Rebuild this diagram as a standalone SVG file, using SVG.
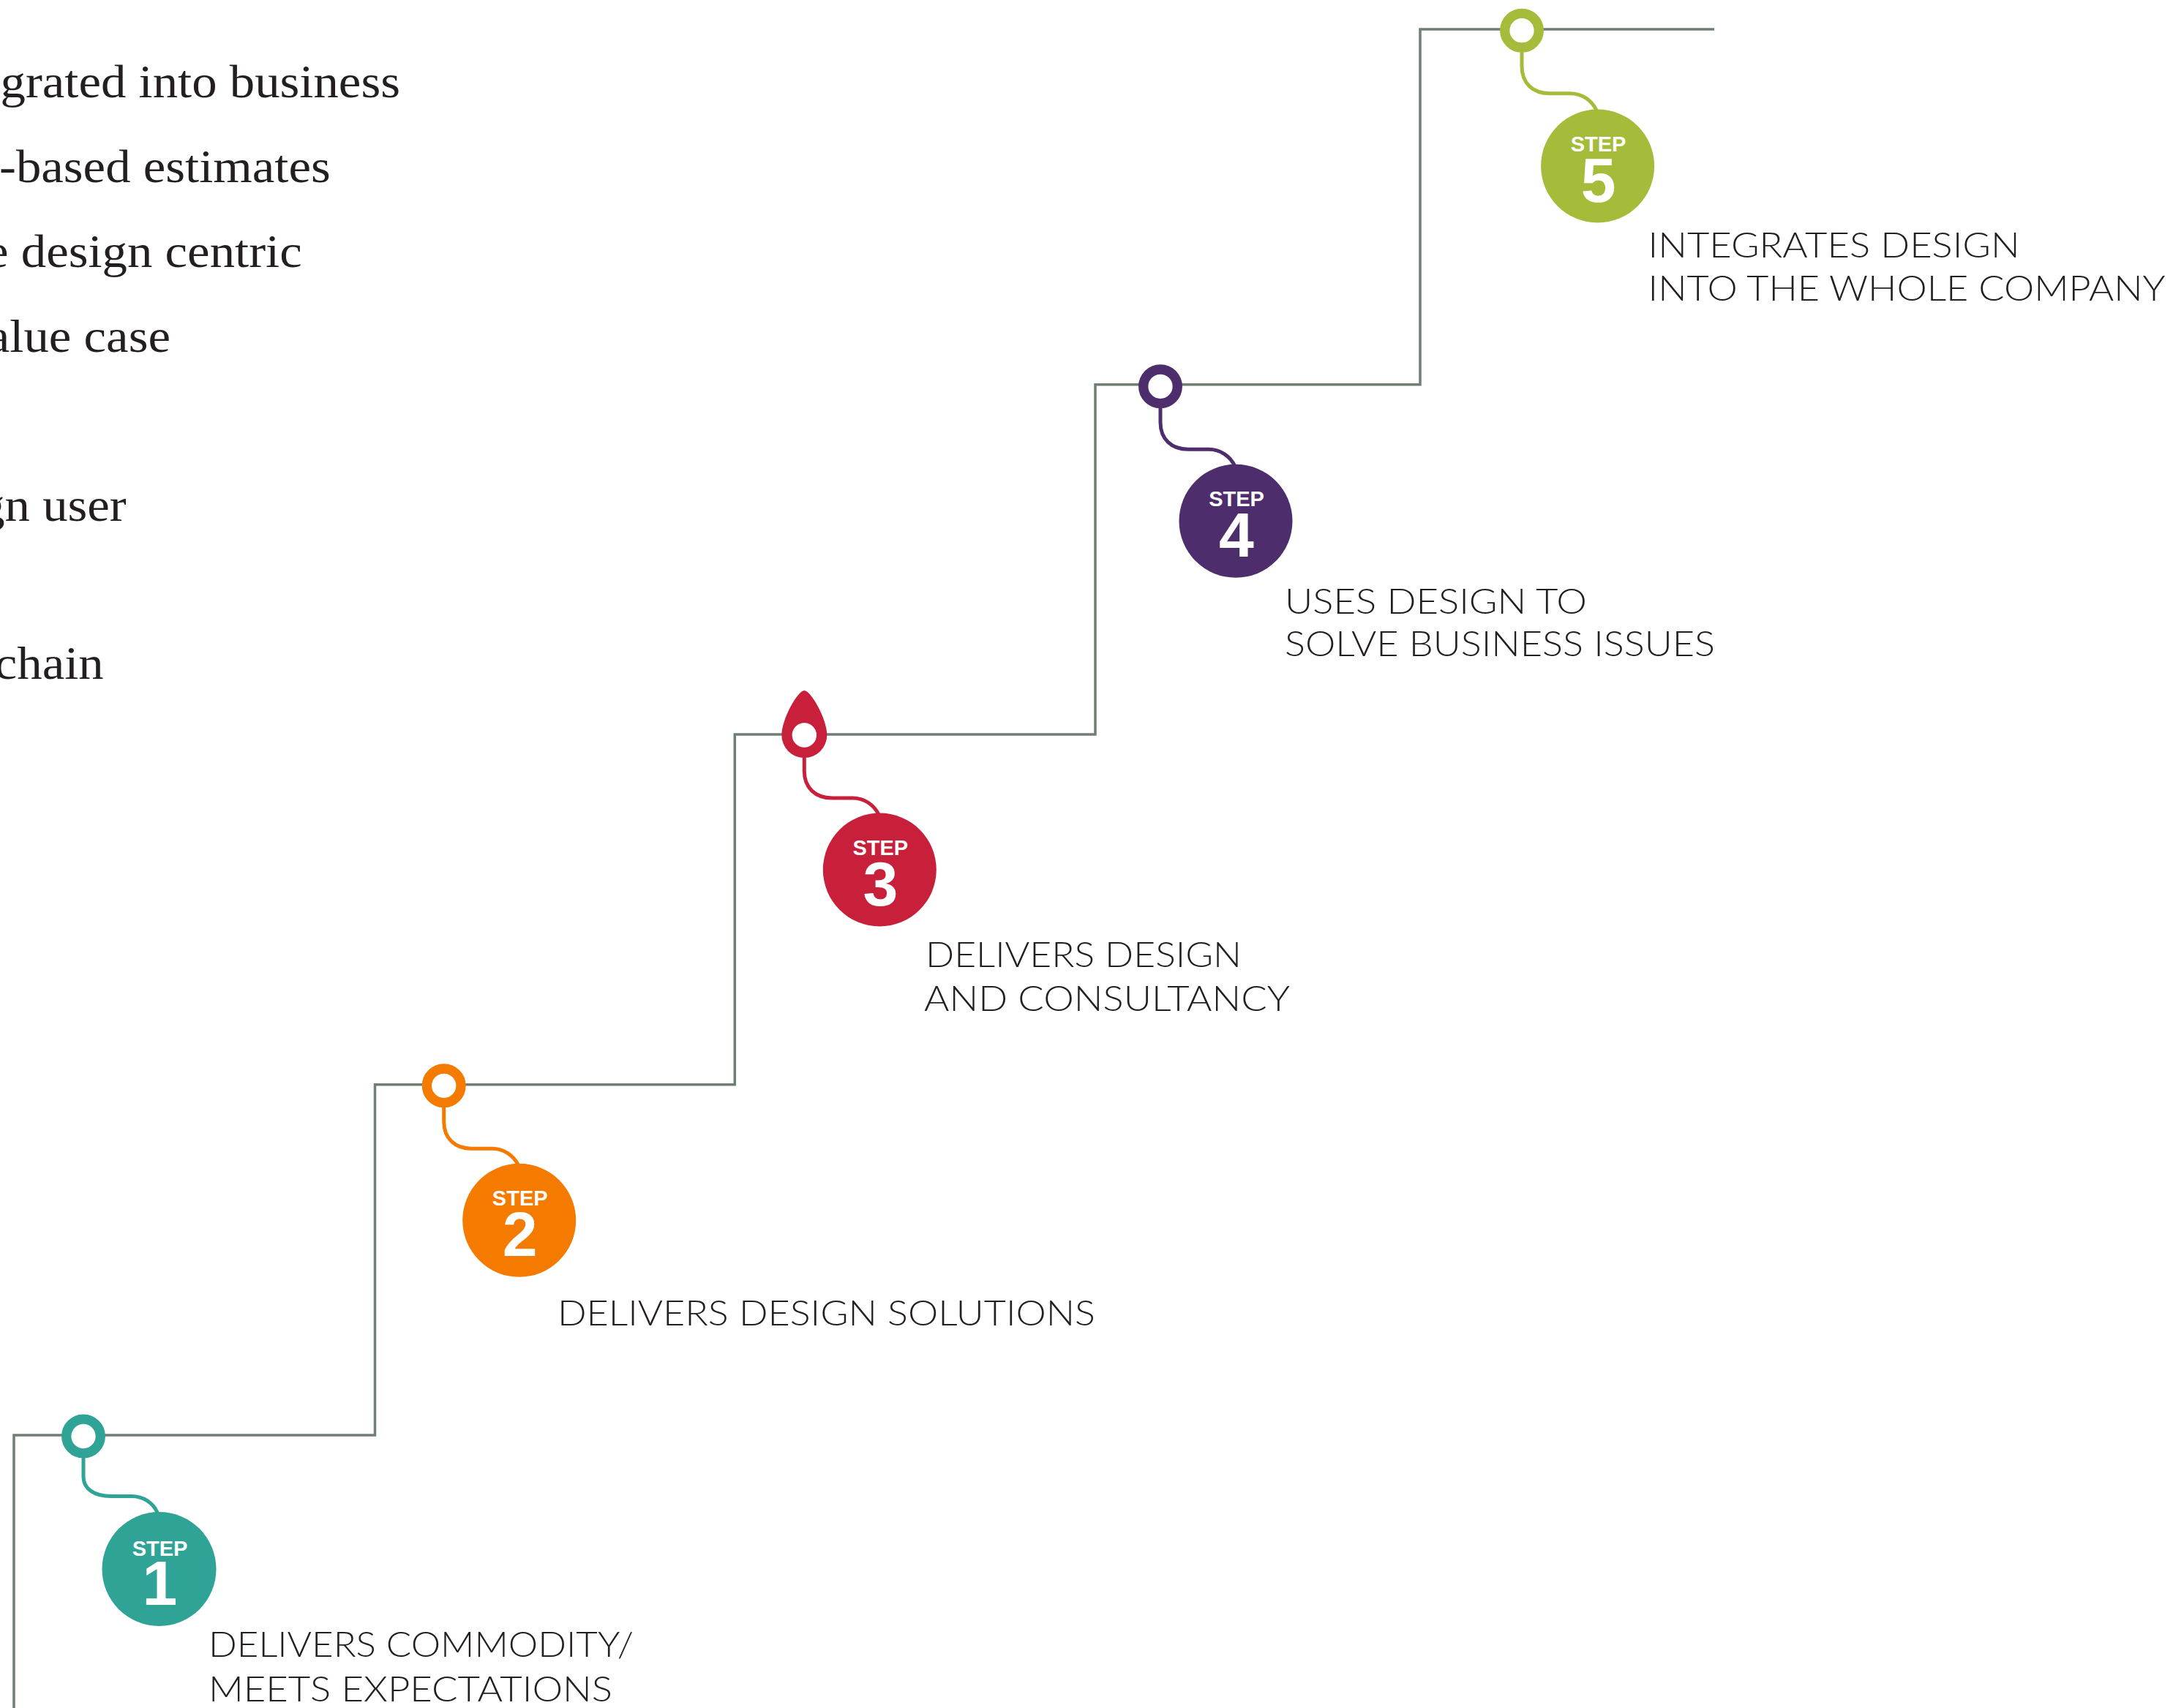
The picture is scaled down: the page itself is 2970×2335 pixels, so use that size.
<svg xmlns="http://www.w3.org/2000/svg" width="2970" height="2335" viewBox="0 0 2970 2335">
<style>
.stair{fill:none;stroke:#6f7f73;stroke-width:3.5;stroke-linejoin:miter}
.serif{font-family:"Liberation Serif","Times New Roman",serif;font-size:64px;fill:#231f20;text-anchor:end}
.lbl{font-family:Lato,"Liberation Sans",Arial,sans-serif;font-size:48px;font-weight:300;fill:#231f20}
.step{font-family:"Liberation Sans",Arial,sans-serif;font-weight:bold;font-size:29px;fill:#fff;text-anchor:middle}
.num{font-family:"Liberation Sans",Arial,sans-serif;font-weight:bold;font-size:86px;fill:#fff;text-anchor:middle}
.ring{fill:#fff;stroke-width:13.3}
.tail{fill:none;stroke-width:5;stroke-linecap:round}
.k1{stroke:#2fa395}.f1{fill:#2fa395}
.k2{stroke:#f47a00}.f2{fill:#f47a00}
.k3{stroke:#c8203a}.f3{fill:#c8203a}
.k4{stroke:#4d2d6b}.f4{fill:#4d2d6b}
.k5{stroke:#a4bc3a}.f5{fill:#a4bc3a}
</style>
<defs>
<path id="tailP" d="M0,30 V49 C0,72 15,86 38,86 H66 C82,86 95,95 102,109"/>
<path id="tailP1" d="M0,30 V55 C0,72 15,82 38,82 H66 C82,82 95,91 101,104"/>
</defs>

<g id="left-text" transform="scale(1.075 1)">
<text class="serif" x="508.8" y="133.3">grated into business</text>
<text class="serif" x="420.2" y="249.3">-based estimates</text>
<text class="serif" x="383.9" y="365">e design centric</text>
<text class="serif" x="216.7" y="480.7">alue case</text>
<text class="serif" x="160.7" y="711.7">gn user</text>
<text class="serif" x="131.8" y="928.3">chain</text>
</g>

<g id="connectors">
<path class="stair" d="M19,2335 V1962 H512.5 V1482.7 H1004.3 V1004 H1497 V525.7 H1941 V40 H2343"/>
</g>

<g id="step1">
<g transform="translate(114 1963.5)">
<use href="#tailP1" class="tail k1"/>
<circle class="f1" cx="103.5" cy="181.5" r="78"/>
<circle class="ring k1" cx="0" cy="0" r="23.3"/>
<text class="step" x="104.5" y="163.5">STEP</text>
<text class="num" x="104.5" y="230.5">1</text>
</g>
<text class="lbl" x="285" y="2265" textLength="581" lengthAdjust="spacingAndGlyphs">DELIVERS COMMODITY/</text>
<text class="lbl" x="285" y="2326" textLength="552" lengthAdjust="spacingAndGlyphs">MEETS EXPECTATIONS</text>
</g>

<g id="step2">
<g transform="translate(606.7 1484.3)">
<use href="#tailP" class="tail k2"/>
<circle class="f2" cx="103" cy="184" r="77.5"/>
<circle class="ring k2" cx="0" cy="0" r="23.3"/>
<text class="step" x="104" y="164">STEP</text>
<text class="num" x="104" y="233">2</text>
</g>
<text class="lbl" x="762" y="1811.7" textLength="735" lengthAdjust="spacingAndGlyphs">DELIVERS DESIGN SOLUTIONS</text>
</g>

<g id="step3">
<g transform="translate(1099.3 1005)">
<use href="#tailP" class="tail k3"/>
<circle class="f3" cx="103" cy="184" r="77.5"/>
<path class="f3" d="M0,-61 C9,-61 31,-22 31,0 A31,31 0 0 1 -31,0 C-31,-22 -9,-61 0,-61 Z"/>
<circle cx="0" cy="0" r="16.7" fill="#fff"/>
<text class="step" x="104" y="164">STEP</text>
<text class="num" x="104" y="233">3</text>
</g>
<text class="lbl" x="1265" y="1321.7" textLength="432" lengthAdjust="spacingAndGlyphs">DELIVERS DESIGN</text>
<text class="lbl" x="1263" y="1381.7" textLength="500" lengthAdjust="spacingAndGlyphs">AND CONSULTANCY</text>
</g>

<g id="step4">
<g transform="translate(1586 528.3)">
<use href="#tailP" class="tail k4"/>
<circle class="f4" cx="103" cy="184" r="77.5"/>
<circle class="ring k4" cx="0" cy="0" r="23.3"/>
<text class="step" x="104" y="164">STEP</text>
<text class="num" x="104" y="233">4</text>
</g>
<text class="lbl" x="1756" y="839.3" textLength="413" lengthAdjust="spacingAndGlyphs">USES DESIGN TO</text>
<text class="lbl" x="1756" y="897.3" textLength="588" lengthAdjust="spacingAndGlyphs">SOLVE BUSINESS ISSUES</text>
</g>

<g id="step5">
<g transform="translate(2080 41.7)">
<use href="#tailP" class="tail k5"/>
<circle class="f5" cx="103.6" cy="185.3" r="77.5"/>
<circle class="ring k5" cx="0" cy="0" r="23.3"/>
<text class="step" x="104.6" y="165.3">STEP</text>
<text class="num" x="104.6" y="234.3">5</text>
</g>
<text class="lbl" x="2252.6" y="351.7" textLength="508" lengthAdjust="spacingAndGlyphs">INTEGRATES DESIGN</text>
<text class="lbl" x="2252.6" y="410.7" textLength="707" lengthAdjust="spacingAndGlyphs">INTO THE WHOLE COMPANY</text>
</g>
</svg>
